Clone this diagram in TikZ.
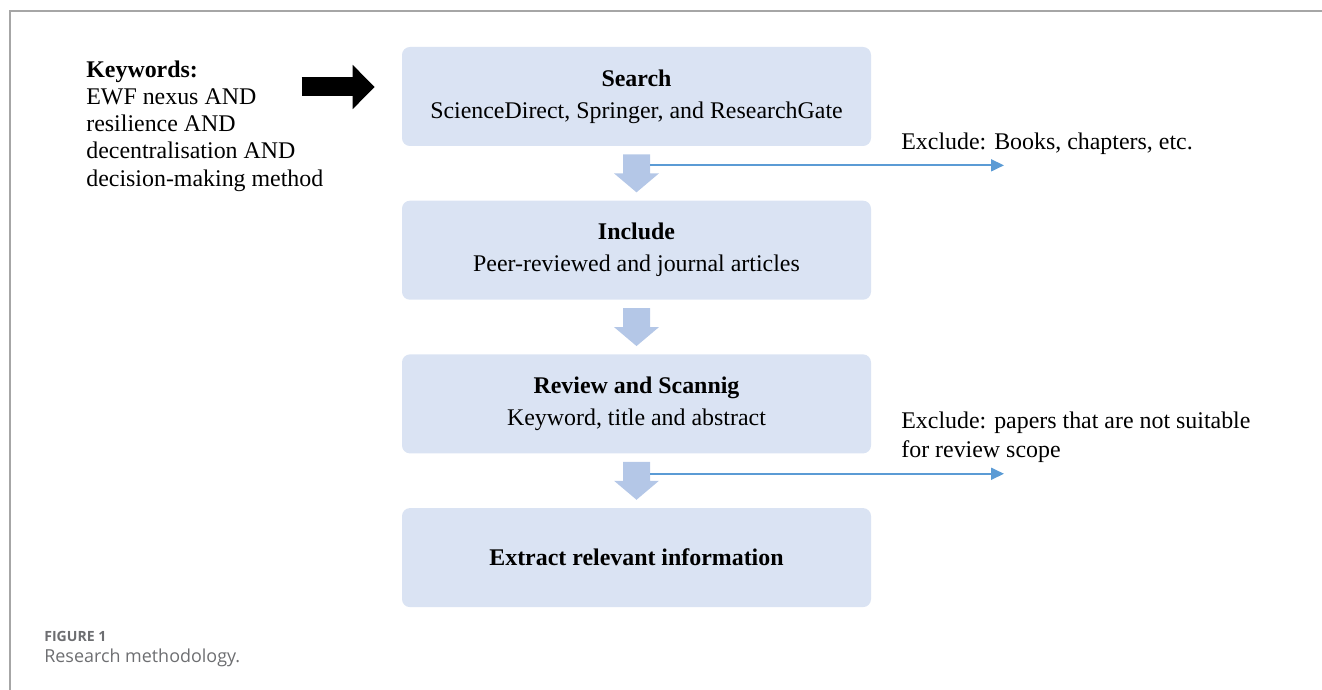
\documentclass[tikz,border=0pt]{standalone}
\usepackage{fontspec}
\setmainfont{Liberation Serif}
\newfontfamily\capfont{Open Sans}
\usepackage{tikz}
\usetikzlibrary{arrows.meta,
                calc,
                positioning}
\definecolor{boxblue}{HTML}{DAE3F3}
\definecolor{blockblue}{HTML}{B4C7E7}
\definecolor{cutblue}{HTML}{5B9BD5}
\definecolor{framegray}{HTML}{A6A6A6}
\definecolor{capgray}{HTML}{6D6E71}

\begin{document}
\begin{tikzpicture}[
    font=\fontsize{13.6}{15.4}\selectfont,
    stepbox/.style={fill=boxblue, rounded corners=4.5pt, minimum width=9.38cm,
                    minimum height=1.98cm, align=center, inner sep=0pt},
    cutarrow/.style={cutblue, line width=1.1pt, -{Triangle[length=7.4pt,width=6.8pt]}},
    note/.style={anchor=base west, align=left, inner sep=0pt},
    node distance=1.08cm]
\useasboundingbox (0,0) rectangle (26.44,-13.8);
\draw[framegray, line width=0.04cm] (0.2,-13.8) -- (0.2,-0.22) -- (26.44,-0.22);

\node[stepbox] (search) at (12.73,-1.93) {\textbf{Search}\\[2.8pt]ScienceDirect, Springer, and ResearchGate};
\node[stepbox, below=of search] (include) {\textbf{Include}\\[2.8pt]Peer-reviewed and journal articles};
\node[stepbox, below=of include] (review) {\textbf{Review and Scannig}\\[2.4pt]Keyword, title and abstract};
\node[stepbox, below=of review] (extract) {\textbf{Extract relevant information}};

\foreach \a/\b in {search/include, include/review, review/extract}
  \fill[blockblue] ($(\a.south)+(-0.27,-0.16)$) -- ($(\a.south)+(0.27,-0.16)$)
    -- ($(\a.south)+(0.27,-0.54)$) -- ($(\a.south)+(0.45,-0.54)$) -- ($(\b.north)+(0,0.16)$)
    -- ($(\a.south)+(-0.45,-0.54)$) -- ($(\a.south)+(-0.27,-0.54)$) -- cycle;

\node[note] (keywords) at (1.72,-3.72) {\textbf{Keywords:}\\EWF nexus AND\\resilience AND\\decentralisation AND\\decision-making method};
\coordinate (kwtip) at ($(search.west)+(-0.54,0.19)$);
\coordinate (kwstart) at ($(kwtip)+(-1.46,0)$);
\draw[line width=0.38cm, -{Triangle[length=0.44cm,width=0.86cm]}] (kwstart) -- (kwtip);

\coordinate (cut1) at ($(search.south)+(0.27,-0.38)$);
\coordinate (cut1end) at ($(cut1)+(7.08,0)$);
\draw[cutarrow] (cut1) -- (cut1end);
\node[note] (excl1) at (18.02,-3.0) {Exclude: Books, chapters, etc.};

\coordinate (cut2) at ($(review.south)+(0.27,-0.40)$);
\coordinate (cut2end) at ($(cut2)+(7.08,0)$);
\draw[cutarrow] (cut2) -- (cut2end);
\node[note, font=\fontsize{13.6}{16}\selectfont] (excl2) at (18.02,-9.14) {Exclude: papers that are not suitable\\for review scope};

\node[anchor=west, inner sep=0pt, text=capgray, font=\capfont\bfseries\fontsize{8}{9}\selectfont] (fig) at (0.88,-12.72) {FIGURE 1};
\node[anchor=west, inner sep=0pt, text=capgray, font=\capfont\fontsize{10.2}{12}\selectfont] (cap) at (0.88,-13.16) {Research methodology.};
\end{tikzpicture}
\end{document}
